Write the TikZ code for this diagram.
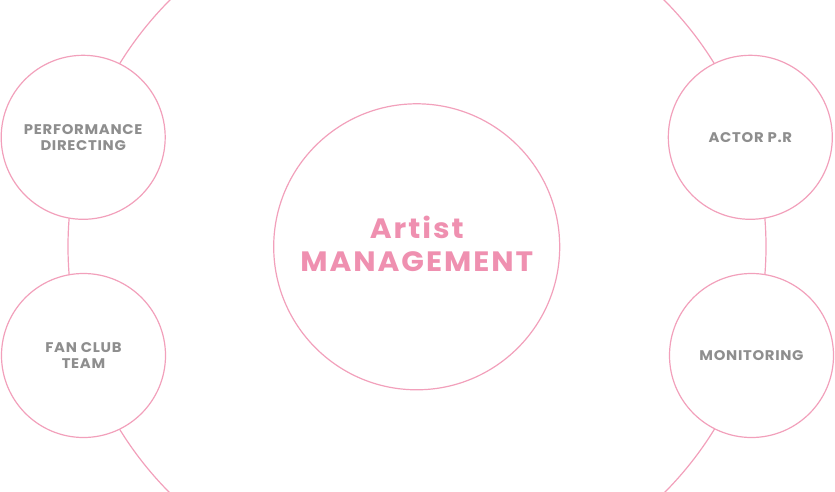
\documentclass[tikz,border=0pt]{standalone}
\usepackage{fontspec}
\setmainfont{Poppins}
\newfontfamily\sidefont{Poppins}[FakeStretch=1.06, LetterSpace=5]
\newfontfamily\centerfont{Poppins}[FakeStretch=1.06, LetterSpace=7]
\definecolor{pinkline}{HTML}{F2A0BB}
\definecolor{pinktext}{HTML}{EF90B0}
\definecolor{graytext}{HTML}{8E8E8E}
\tikzset{
  ring/.style={draw=pinkline, line width=1.2pt},
  sidecircle/.style={circle, draw=pinkline, line width=1.2pt, fill=white, minimum size=164pt, inner sep=0pt, align=center, text=graytext, font=\sidefont\bfseries\fontsize{14}{16}\selectfont},
  maincircle/.style={circle, draw=pinkline, line width=1.2pt, fill=white, minimum size=286pt, inner sep=0pt},
  maintext/.style={align=center, text=pinktext, font=\centerfont\bfseries\fontsize{28}{33}\selectfont},
}
\begin{document}
\begin{tikzpicture}[x=1pt,y=-1pt]
\useasboundingbox (0,0) rectangle (835,492);
\begin{scope}
\clip (0,0) rectangle (835,492);
\coordinate (ctr) at (417,246.5);
\draw[ring] (ctr) circle[radius=349];
\end{scope}
\node[maincircle] (main) at (416.7,246.8) {};
\node[maintext] (maintext) at (416.7,244) {Artist\\MANAGEMENT};
\node[sidecircle] (perf) at (83.2,137.3) {PERFORMANCE\\DIRECTING};
\node[sidecircle] (fan) at (83.5,355.5) {FAN CLUB\\TEAM};
\node[sidecircle] (actor) at (750.3,137.3) {ACTOR P.R};
\node[sidecircle] (mon) at (751.5,355.5) {MONITORING};
\end{tikzpicture}
\end{document}
